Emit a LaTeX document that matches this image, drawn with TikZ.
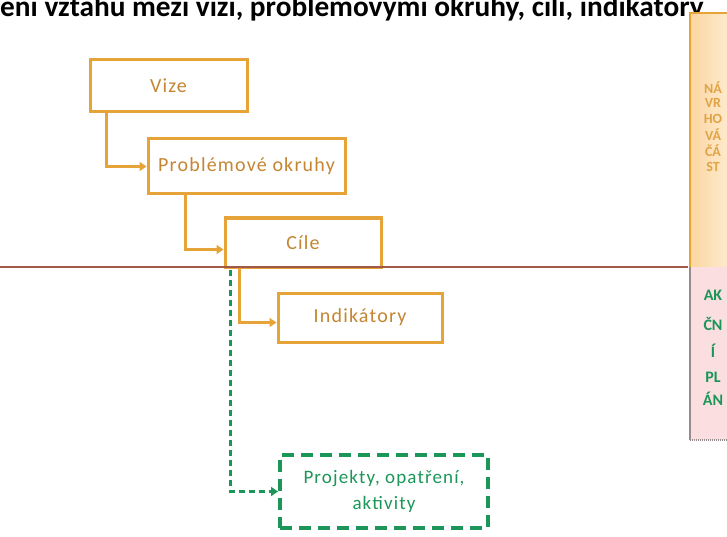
\documentclass[tikz,border=0pt]{standalone}
\usepackage{fontspec}
\setmainfont{Carlito}
\newfontfamily\boxfont[LetterSpace=6]{Carlito}
\usetikzlibrary{arrows.meta,calc}
\definecolor{gold}{RGB}{230,164,56}
\definecolor{goldtext}{RGB}{196,134,50}
\definecolor{pgreen}{RGB}{28,150,88}
\definecolor{brownline}{RGB}{160,88,72}
\definecolor{panelA}{RGB}{251,214,160}
\definecolor{panelB}{RGB}{254,236,210}
\definecolor{panelpink}{RGB}{250,222,224}
\definecolor{panelgray}{RGB}{150,140,140}
\definecolor{upertext}{RGB}{224,164,70}
\tikzset{
  box/.style={draw=gold, line width=3pt, fill=white, inner sep=0pt,
    font=\boxfont\fontsize{20}{24}\selectfont, text=goldtext},
  conn/.style={draw=gold, line width=3pt, -{Triangle[width=9pt,length=7pt]}},
  gconn/.style={draw=pgreen, line width=2.8pt, dash pattern=on 6pt off 4pt,
    -{Triangle[width=9pt,length=7pt]}},
  gbox/.style={draw=pgreen, line width=4pt, dash pattern=on 12pt off 7pt,
    fill=white, inner sep=0pt, align=center,
    font=\boxfont\fontsize{19}{26}\selectfont, text=pgreen},
  uptext/.style={font=\bfseries\fontsize{14}{16}\selectfont, text=upertext, inner sep=0pt},
  lowtext/.style={font=\bfseries\fontsize{16}{18}\selectfont, text=pgreen, inner sep=0pt}
}
\begin{document}
\begin{tikzpicture}[x=1pt,y=-1pt]
\useasboundingbox (0,0) rectangle (727,537);
\clip (0,0) rectangle (727,537);
\fill[white] (0,0) rectangle (727,537);

% title (cropped at the top as in the reference)
\node[anchor=base west, inner sep=0pt, font=\bfseries\fontsize{29.3}{34}\selectfont] (title) at (0,17)
  {ení vztahu mezi vizí, problémovými okruhy, cíli, indikátory};

% side panel
\shade[left color=panelA, right color=panelB] (690,13) rectangle (732,267);
\draw[gold, line width=1.2pt] (732,13) -- (690,13) -- (690,267);
\fill[panelpink] (690,267) rectangle (732,440);
\draw[panelgray, line width=1.2pt] (690,267) -- (690,440);
\draw[panelgray, line width=1.8pt, dash pattern=on 1pt off 1pt] (690,440) -- (732,440);

\node[uptext] (p1) at (713,88) {NÁ};
\node[uptext] (p2) at (713,103) {VR};
\node[uptext] (p3) at (713,119) {HO};
\node[uptext] (p4) at (713,135) {VÁ};
\node[uptext] (p5) at (713,151) {ČÁ};
\node[uptext] (p6) at (713,167) {ST};

\node[lowtext] (q1) at (713,295) {AK};
\node[lowtext] (q2) at (713,324) {ČN};
\node[lowtext] (q3) at (713,351) {Í};
\node[lowtext] (q4) at (713,377) {PL};
\node[lowtext] (q5) at (713,399) {ÁN};

% boxes
\node[box, minimum width=157pt, minimum height=52pt] (vize) at (168.5,86) {Vize};
\node[box, minimum width=197pt, minimum height=55pt] (prob) at (246.5,166.5) {Problémové okruhy};
\node[box, minimum width=156pt, minimum height=49pt] (cile) at (303,242.5) {Cíle};
\node[box, minimum width=164pt, minimum height=49pt] (indik) at (360,317.5) {Indikátory};
\node[gbox, minimum width=208pt, minimum height=73pt] (proj) at (384,491.5) {Projekty, opatření,\\aktivity};

% connectors
\draw[conn] ($(vize.south west)+(18,0)$) |- (prob.west);
\draw[conn] ($(prob.south west)+(39,0)$) |- ($(cile.west)+(0,7)$);
\draw[conn] ($(cile.south west)+(16,0)$) |- ($(indik.west)+(0,5)$);
\draw[gconn] ($(cile.south west)+(7,1)$) |- (proj.west);

% dividing line
\coordinate (lineL) at (0,267);
\coordinate (lineR) at (688,267);
\draw[brownline, line width=2.5pt] (lineL) -- (lineR);
\end{tikzpicture}
\end{document}
